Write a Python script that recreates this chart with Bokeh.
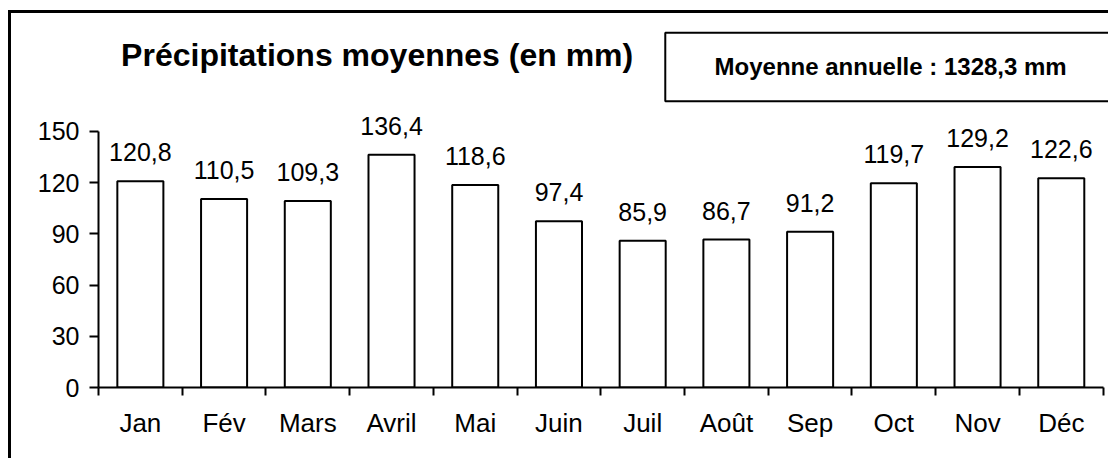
from bokeh.plotting import figure
from bokeh.models import Range1d, FixedTicker, Label, BoxAnnotation
from bokeh.core.properties import value
from bokeh.embed import file_html
from bokeh.resources import INLINE

months = ["Jan", "Fév", "Mars", "Avril", "Mai", "Juin", "Juil", "Août", "Sep", "Oct", "Nov", "Déc"]
precip = [120.8, 110.5, 109.3, 136.4, 118.6, 97.4, 85.9, 86.7, 91.2, 119.7, 129.2, 122.6]
y_ticks = [0, 30, 60, 90, 120, 150]
title_text = "Précipitations moyennes (en mm)"
annual_text = "Moyenne annuelle : 1328,3 mm"

FONT = "Liberation Sans"

centers = [i + 0.5 for i in range(len(months))]
labels = [f"{v:.1f}".replace(".", ",") for v in precip]

p = figure(width=1100, height=448, output_backend="svg", toolbar_location=None,
           x_range=Range1d(0, 12.1), y_range=Range1d(0, 219.1),
           min_border_left=87, min_border_right=0, min_border_top=0, min_border_bottom=74,
           styles={"border-left": "3px solid #000", "border-top": "3px solid #000",
                   "margin-top": "10px", "margin-left": "8px"})
p.background_fill_color = "white"
p.border_fill_color = "white"
p.outline_line_color = None
p.xgrid.visible = False
p.ygrid.visible = False

p.vbar(x=centers, top=precip, width=0.55, fill_color="white", line_color="black", line_width=2)
p.text(x=centers, y=precip, text=labels, y_offset=-29, text_align="center",
       text_baseline="alphabetic", text_font_size="25px", text_font=value(FONT), text_color="black")

# x axis
xa = p.xaxis[0]
xa.ticker = FixedTicker(ticks=centers, minor_ticks=list(range(0, 13)))
xa.major_label_overrides = {c: m for c, m in zip(centers, months)}
xa.bounds = (0, 12)
xa.axis_line_width = 2
xa.axis_line_color = "black"
xa.major_tick_line_color = None
xa.minor_tick_line_color = "black"
xa.minor_tick_line_width = 2
xa.minor_tick_out = 8
xa.minor_tick_in = 0
xa.major_label_standoff = 12
xa.major_label_text_font = FONT
xa.major_label_text_font_size = "26px"
xa.major_label_text_color = "black"

# y axis
ya = p.yaxis[0]
ya.ticker = FixedTicker(ticks=y_ticks, minor_ticks=[])
ya.bounds = (0, 150)
ya.axis_line_width = 2
ya.axis_line_color = "black"
ya.major_tick_line_color = "black"
ya.major_tick_line_width = 2
ya.major_tick_out = 9
ya.major_tick_in = 0
ya.minor_tick_line_color = None
ya.major_label_standoff = 10
ya.major_label_text_font = FONT
ya.major_label_text_font_size = "25px"
ya.major_label_text_color = "black"

# title
p.add_layout(Label(x=0.27, y=194.5, text=title_text, text_font=FONT, text_font_size="32px",
                   text_font_style="bold", text_color="black", text_baseline="alphabetic"))

# annual mean box
p.add_layout(BoxAnnotation(left=6.77, right=12.6, top=207.8, bottom=167.7,
                           fill_color="white", fill_alpha=1.0, line_color="black",
                           line_alpha=1.0, line_width=2))
p.add_layout(Label(x=9.462, y=188.1, text=annual_text, text_font=FONT, text_font_size="24px",
                   text_font_style="bold", text_color="black", text_align="center",
                   text_baseline="middle"))

open("out.html", "w").write(file_html(p, INLINE))
